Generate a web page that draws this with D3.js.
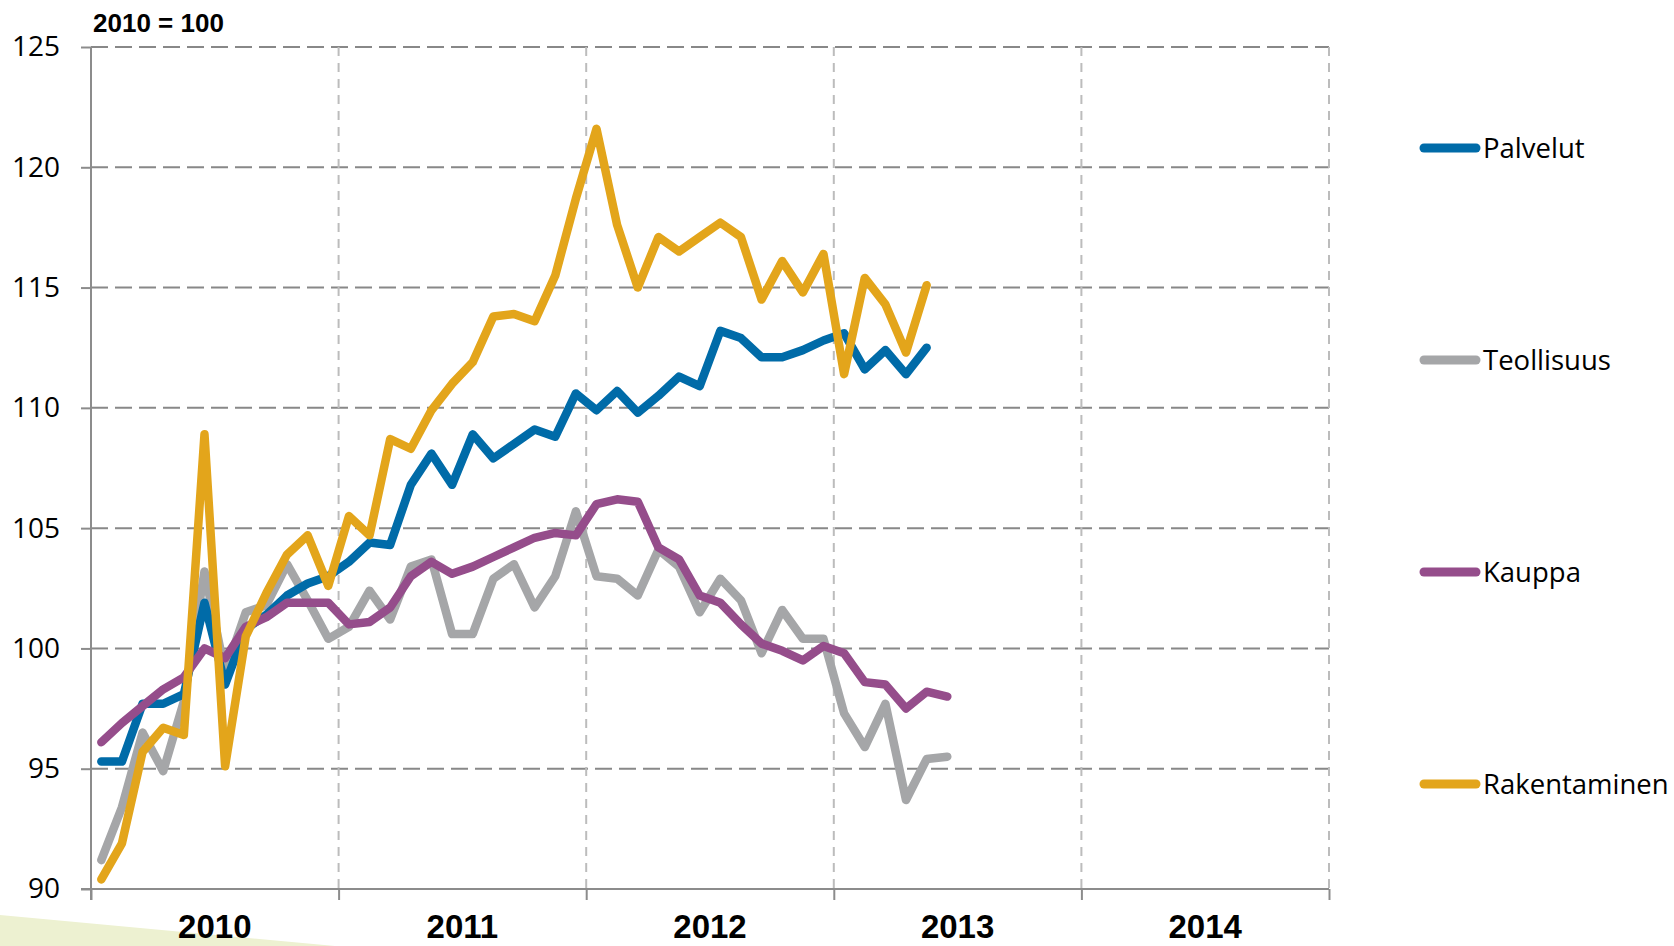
<!DOCTYPE html>
<html>
<head>
<meta charset="utf-8">
<script src="https://cdn.jsdelivr.net/npm/d3@7"></script>
<style>
  body { margin: 0; background: #fff; }
  svg { display: block; }
</style>
</head>
<body>
<div id="chart"></div>
<script>
/* monthly index values, 2010 = 100 */
var months = [
  "2010-01","2010-02","2010-03","2010-04","2010-05","2010-06","2010-07","2010-08","2010-09","2010-10","2010-11","2010-12",
  "2011-01","2011-02","2011-03","2011-04","2011-05","2011-06","2011-07","2011-08","2011-09","2011-10","2011-11","2011-12",
  "2012-01","2012-02","2012-03","2012-04","2012-05","2012-06","2012-07","2012-08","2012-09","2012-10","2012-11","2012-12",
  "2013-01","2013-02","2013-03","2013-04","2013-05","2013-06"
];
var years = ["2010", "2011", "2012", "2013", "2014"];
var yTicks = [90, 95, 100, 105, 110, 115, 120, 125];

var palvelut = [
  95.3, 95.3, 97.7, 97.7, 98.1, 101.9, 98.5, 100.8, 101.4, 102.2, 102.7, 103.0,
  103.6, 104.4, 104.3, 106.8, 108.1, 106.8, 108.9, 107.9, 108.5, 109.1, 108.8, 110.6,
  109.9, 110.7, 109.8, 110.5, 111.3, 110.9, 113.2, 112.9, 112.1, 112.1, 112.4, 112.8,
  113.1, 111.6, 112.4, 111.4, 112.5
];
var teollisuus = [
  91.2, 93.4, 96.5, 94.9, 97.8, 103.2, 99.0, 101.5, 101.8, 103.5, 102.0, 100.4,
  100.9, 102.4, 101.2, 103.4, 103.7, 100.6, 100.6, 102.9, 103.5, 101.7, 103.0, 105.7,
  103.0, 102.9, 102.2, 104.1, 103.4, 101.5, 102.9, 102.0, 99.8, 101.6, 100.4, 100.4,
  97.3, 95.9, 97.7, 93.7, 95.4, 95.5
];
var kauppa = [
  96.1, 96.9, 97.6, 98.3, 98.8, 100.0, 99.6, 100.9, 101.3, 101.9, 101.9, 101.9,
  101.0, 101.1, 101.7, 103.0, 103.6, 103.1, 103.4, 103.8, 104.2, 104.6, 104.8, 104.7,
  106.0, 106.2, 106.1, 104.2, 103.7, 102.2, 101.9, 101.0, 100.2, 99.9, 99.5, 100.1,
  99.8, 98.6, 98.5, 97.5, 98.2, 98.0
];
var rakentaminen = [
  90.4, 91.9, 95.7, 96.7, 96.4, 108.9, 95.1, 100.5, 102.3, 103.9, 104.7, 102.6,
  105.5, 104.7, 108.7, 108.3, 109.9, 111.0, 111.9, 113.8, 113.9, 113.6, 115.5, 118.7,
  121.6, 117.6, 115.0, 117.1, 116.5, 117.1, 117.7, 117.1, 114.5, 116.1, 114.8, 116.4,
  111.4, 115.4, 114.3, 112.3, 115.1
];

var seriesNames = ["Palvelut", "Teollisuus", "Kauppa", "Rakentaminen"];
var seriesValues = [palvelut, teollisuus, kauppa, rakentaminen];
var colors = ["#006ba8", "#a5a6a8", "#954d8b", "#e3a51b"];

/* canvas */
var width = 1674,
    height = 946;
var margin = { top: 47, left: 91, right: 345, bottom: 57 };
var plotW = width - margin.left - margin.right,
    plotH = height - margin.top - margin.bottom;

var svg = d3.select("#chart")
    .append("svg")
    .attr("width", width)
    .attr("height", height);

/* pale swoosh in the corner */
svg.append("path")
    .attr("d", "M0,915 L335,946 L0,946 Z")
    .attr("fill", "#edf1d1");

var g = svg.append("g")
    .attr("transform", "translate(" + margin.left + "," + margin.top + ")");

/* scales: one slot per month, 5 years */
var x = d3.scaleLinear().domain([0, years.length * 12]).range([0, plotW]);
var y = d3.scaleLinear().domain([90, 125]).range([plotH, 0]);

/* horizontal grid */
g.append("g")
    .selectAll("line")
    .data(yTicks.filter(function (d) { return d > 90; }))
    .enter().append("line")
    .attr("x1", 0).attr("x2", plotW)
    .attr("y1", function (d) { return y(d); })
    .attr("y2", function (d) { return y(d); })
    .attr("stroke", "#888")
    .attr("stroke-width", 2)
    .attr("stroke-dasharray", "17,7");

/* vertical grid at year boundaries */
var yearBounds = d3.range(1, years.length + 1).map(function (i) { return i * 12; });
g.append("g")
    .selectAll("line")
    .data(yearBounds)
    .enter().append("line")
    .attr("x1", function (d) { return x(d); })
    .attr("x2", function (d) { return x(d); })
    .attr("y1", 0).attr("y2", plotH)
    .attr("stroke", "#bcbcbc")
    .attr("stroke-width", 2)
    .attr("stroke-dasharray", "9,7");

/* y axis */
var yAxis = d3.axisLeft(y)
    .tickValues(yTicks)
    .tickSize(10)
    .tickPadding(21);
var yAx = g.append("g").call(yAxis);
yAx.select(".domain").attr("stroke", "#8c8c8c").attr("stroke-width", 2)
    .attr("d", "M0," + (plotH + 11) + "V0");
yAx.selectAll(".tick line").attr("stroke", "#8c8c8c").attr("stroke-width", 2);
yAx.selectAll(".tick text")
    .attr("fill", "#000")
    .style("font-family", "'Open Sans', sans-serif")
    .style("font-size", "28px");

/* x axis: ticks at year boundaries, labels centred in each year */
var xAxis = d3.axisBottom(x)
    .tickValues(d3.range(0, years.length + 1).map(function (i) { return i * 12; }))
    .tickSize(11)
    .tickFormat("");
var xAx = g.append("g")
    .attr("transform", "translate(0," + plotH + ")")
    .call(xAxis);
xAx.select(".domain").attr("stroke", "#8c8c8c").attr("stroke-width", 2)
    .attr("d", "M-10,0H" + plotW);
xAx.selectAll(".tick line").attr("stroke", "#8c8c8c").attr("stroke-width", 2);

g.append("g")
    .selectAll("text")
    .data(years)
    .enter().append("text")
    .attr("x", function (d, i) { return x(i * 12 + 6); })
    .attr("y", plotH + 49)
    .attr("text-anchor", "middle")
    .style("font-family", "'Liberation Sans', Arial, sans-serif")
    .style("font-weight", "bold")
    .style("font-size", "33px")
    .text(function (d) { return d; });

/* lines: grey first, then blue, purple, gold on top */
var line = d3.line()
    .x(function (d, i) { return x(i + 0.5); })
    .y(function (d) { return y(d); });

[1, 0, 2, 3].forEach(function (k) {
    g.append("path")
        .datum(seriesValues[k])
        .attr("d", line)
        .attr("fill", "none")
        .attr("stroke", colors[k])
        .attr("stroke-width", 8.5)
        .attr("stroke-linejoin", "round")
        .attr("stroke-linecap", "round");
});

/* unit label */
svg.append("text")
    .attr("x", 93)
    .attr("y", 32)
    .style("font-family", "'Liberation Sans', Arial, sans-serif")
    .style("font-weight", "bold")
    .style("font-size", "26px")
    .text("2010 = 100");

/* legend */
var legendY = [148, 360, 572, 784];
var legend = svg.append("g")
    .selectAll("g")
    .data(seriesNames)
    .enter().append("g")
    .attr("transform", function (d, i) { return "translate(1420," + legendY[i] + ")"; });

legend.append("line")
    .attr("x1", 4).attr("x2", 56)
    .attr("stroke", function (d, i) { return colors[i]; })
    .attr("stroke-width", 9)
    .attr("stroke-linecap", "round");

legend.append("text")
    .attr("x", 63)
    .attr("dy", "0.35em")
    .style("font-family", "'Open Sans', sans-serif")
    .style("font-size", "27.5px")
    .text(function (d) { return d; });
</script>
</body>
</html>
